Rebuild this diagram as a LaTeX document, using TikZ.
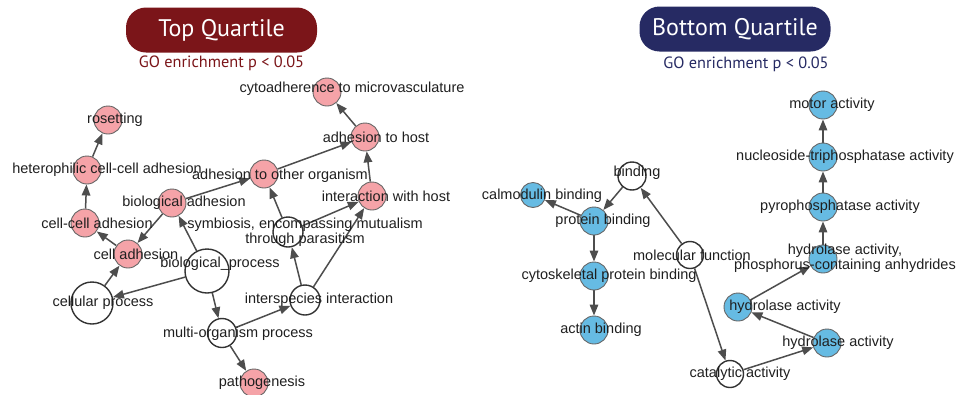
\documentclass[tikz,border=0pt]{standalone}
\usepackage{fontspec}
\setmainfont{Liberation Sans}
\newfontfamily\headfont{PT Sans}
\usetikzlibrary{arrows.meta,backgrounds}
\definecolor{topred}{HTML}{7B1519}
\definecolor{botblue}{HTML}{262A63}
\definecolor{pinkgo}{HTML}{F5A3A8}
\definecolor{bluego}{HTML}{66BBE3}
\definecolor{edgegray}{HTML}{4D4D4D}

\begin{document}
\begin{tikzpicture}[x=1pt,y=-1pt,
    font=\fontsize{14.5}{12}\selectfont,
    term/.style={circle, draw=gray!80!black, line width=0.9pt, inner sep=0pt, minimum size=28},
    top/.style={term, fill=pinkgo},
    bot/.style={term, fill=bluego},
    parent/.style={circle, draw=black!80, line width=1.4pt, fill=white, inner sep=0pt, minimum size=#1},
    lbl/.style={text=black!88, align=center},
    edge/.style={draw=edgegray, line width=1.5pt, -{Triangle[length=11pt,width=8.5pt]}},
    pill/.style={rounded corners=20pt, minimum width=191, minimum height=45, text=white,
        font=\headfont\fontsize{24}{26}\selectfont},
    subhead/.style={font=\headfont\fontsize{16.3}{18}\selectfont}]
    \useasboundingbox (0,0) rectangle (967,394);

    \node (tophead) [pill, fill=topred] at (221.5,30) {Top Quartile};
    \node (topsub) [subhead, text=topred] at (221.5,63) {GO enrichment p < 0.05};
    \node (bothead) [pill, fill=botblue] at (735,29) {Bottom Quartile};
    \node (botsub) [subhead, text=botblue] at (746,64) {GO enrichment p < 0.05};

    % top quartile
    \node (rosetting) [top, label={[lbl,xshift=7]center:rosetting}] at (108,120) {};
    \node (hetero) [top, label={[lbl,xshift=20]center:heterophilic cell-cell adhesion}] at (87,170) {};
    \node (cellcell) [top, label={[lbl,xshift=12]center:cell-cell adhesion}] at (85,223) {};
    \node (bioadh) [top, label={[lbl,xshift=12]center:biological adhesion}] at (172,203) {};
    \node (celladh) [top, label={[lbl,xshift=8]center:cell adhesion}] at (128,254) {};
    \node (cellproc) [parent=42, label={[lbl,xshift=11]center:cellular process}] at (92,303) {};
    \node (bioproc) [parent=44, label={[lbl,xshift=13,yshift=7]center:biological\_process}] at (207,271) {};
    \node (adhother) [top, label={[lbl,xshift=16,yshift=-2]center:adhesion to other organism}] at (264,174) {};
    \node (adhhost) [top, label={[lbl,xshift=11]center:adhesion to host}] at (365,137) {};
    \node (cyto) [top, label={[lbl,xshift=25,yshift=3]center:cytoadherence to microvasculature}] at (327,92) {};
    \node (inthost) [top, label={[lbl,xshift=14]center:interaction with host}] at (372,196) {};
    \node (symb) [parent=30, label={[lbl,xshift=17]center:symbiosis, encompassing mutualism\\through parasitism}] at (288,232) {};
    \node (intersp) [parent=30, label={[lbl,xshift=14]center:interspecies interaction}] at (305,300) {};
    \node (multi) [parent=29, label={[lbl,xshift=16,yshift=-1]center:multi-organism process}] at (222,333) {};
    \node (patho) [top, label={[lbl,xshift=8]center:pathogenesis}] at (254,383) {};

    % bottom quartile
    \node (binding) [parent=28, label={[lbl,xshift=5,yshift=3]center:binding}] at (632,176) {};
    \node (calm) [bot, minimum size=25, label={[lbl,xshift=9,yshift=-1]center:calmodulin binding}] at (533,195) {};
    \node (protb) [bot, label={[lbl,xshift=9]center:protein binding}] at (594,221) {};
    \node (cytosk) [bot, label={[lbl,xshift=15]center:cytoskeletal protein binding}] at (594,276) {};
    \node (actin) [bot, label={[lbl,xshift=7]center:actin binding}] at (594,330) {};
    \node (molfn) [parent=27, label={[lbl,xshift=2]center:molecular function}] at (690,255) {};
    \node (catal) [parent=27, label={[lbl,xshift=10]center:catalytic activity}] at (730,374) {};
    \node (hydr) [bot, label={[lbl,xshift=11]center:hydrolase activity}] at (827,343) {};
    \node (hydl) [bot, label={[lbl,xshift=47]center:hydrolase activity}] at (738,307) {};
    \node (hydp) [bot, label={[lbl,xshift=22,yshift=1]center:hydrolase activity,\\phosphorus-containing anhydrides}] at (823,259) {};
    \node (pyro) [bot, label={[lbl,xshift=17]center:pyrophosphatase activity}] at (823,207) {};
    \node (nucl) [bot, label={[lbl,xshift=22]center:nucleoside-triphosphatase activity}] at (823,157) {};
    \node (motor) [bot, label={[lbl,xshift=9]center:motor activity}] at (823,105) {};

    \begin{scope}[on background layer]
        \draw[edge] (hetero) -- (rosetting);
        \draw[edge] (cellcell) -- (hetero);
        \draw[edge] (celladh) -- (cellcell);
        \draw[edge] (bioadh) -- (celladh);
        \draw[edge] (bioadh) -- (adhother);
        \draw[edge] (bioproc) -- (bioadh);
        \draw[edge] (bioproc) -- (cellproc);
        \draw[edge] (cellproc) -- (celladh);
        \draw[edge] (bioproc) -- (multi);
        \draw[edge] (multi) -- (patho);
        \draw[edge] (multi) -- (intersp);
        \draw[edge] (intersp) -- (symb);
        \draw[edge] (intersp) -- (inthost);
        \draw[edge] (symb) -- (adhother);
        \draw[edge] (symb) -- (inthost);
        \draw[edge] (adhother) -- (adhhost);
        \draw[edge] (inthost) -- (adhhost);
        \draw[edge] (adhhost) -- (cyto);

        \draw[edge] (binding) -- (protb);
        \draw[edge] (protb) -- (calm);
        \draw[edge] (protb) -- (cytosk);
        \draw[edge] (cytosk) -- (actin);
        \draw[edge] (molfn) -- (binding);
        \draw[edge] (molfn) -- (catal);
        \draw[edge] (catal) -- (hydr);
        \draw[edge] (hydr) -- (hydl);
        \draw[edge] (hydl) -- (hydp);
        \draw[edge] (hydp) -- (pyro);
        \draw[edge] (pyro) -- (nucl);
        \draw[edge] (nucl) -- (motor);
    \end{scope}
\end{tikzpicture}
\end{document}
